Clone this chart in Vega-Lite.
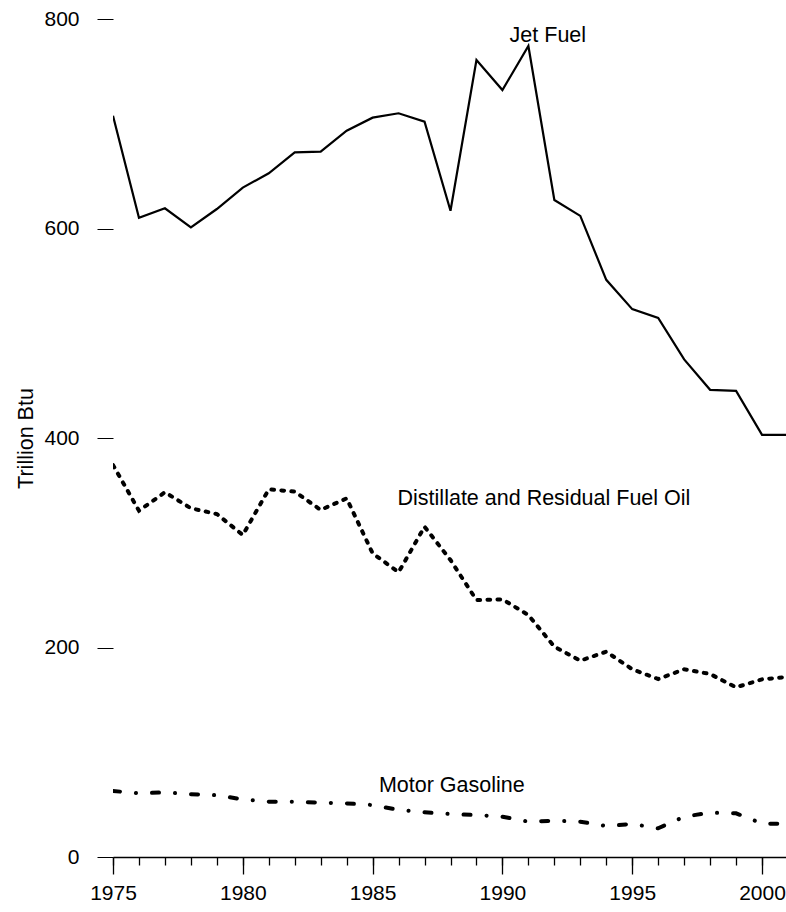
{
  "$schema": "https://vega.github.io/schema/vega-lite/v6.json",
  "autosize": {"type": "none"},
  "padding": {"left": 113, "top": 19, "right": 0, "bottom": 55},
  "width": 675,
  "height": 838,
  "background": "white",
  "config": {
    "view": {"stroke": null},
    "font": "Liberation Sans",
    "axis": {"grid": false, "labelColor": "black", "tickColor": "black", "domainColor": "black", "titleColor": "black", "labelFont": "Liberation Sans", "titleFont": "Liberation Sans", "titleFontWeight": "normal", "labelFlush": false}
  },
  "datasets": {
    "energy": [
      {"year": 1975, "series": "Jet Fuel", "value": 707.7},
      {"year": 1976, "series": "Jet Fuel", "value": 610.3},
      {"year": 1977, "series": "Jet Fuel", "value": 619.3},
      {"year": 1978, "series": "Jet Fuel", "value": 601.1},
      {"year": 1979, "series": "Jet Fuel", "value": 618.6},
      {"year": 1980, "series": "Jet Fuel", "value": 639},
      {"year": 1981, "series": "Jet Fuel", "value": 652.7},
      {"year": 1982, "series": "Jet Fuel", "value": 672.7},
      {"year": 1983, "series": "Jet Fuel", "value": 673.3},
      {"year": 1984, "series": "Jet Fuel", "value": 693.4},
      {"year": 1985, "series": "Jet Fuel", "value": 705.8},
      {"year": 1986, "series": "Jet Fuel", "value": 710},
      {"year": 1987, "series": "Jet Fuel", "value": 702},
      {"year": 1988, "series": "Jet Fuel", "value": 617},
      {"year": 1989, "series": "Jet Fuel", "value": 760.9},
      {"year": 1990, "series": "Jet Fuel", "value": 732.2},
      {"year": 1991, "series": "Jet Fuel", "value": 774.2},
      {"year": 1992, "series": "Jet Fuel", "value": 627.2},
      {"year": 1993, "series": "Jet Fuel", "value": 612},
      {"year": 1994, "series": "Jet Fuel", "value": 551},
      {"year": 1995, "series": "Jet Fuel", "value": 523},
      {"year": 1996, "series": "Jet Fuel", "value": 514.6},
      {"year": 1997, "series": "Jet Fuel", "value": 475},
      {"year": 1998, "series": "Jet Fuel", "value": 446},
      {"year": 1999, "series": "Jet Fuel", "value": 445},
      {"year": 2000, "series": "Jet Fuel", "value": 403},
      {"year": 2001, "series": "Jet Fuel", "value": 403},
      {"year": 1975, "series": "Distillate", "value": 374.2},
      {"year": 1976, "series": "Distillate", "value": 330.6},
      {"year": 1977, "series": "Distillate", "value": 348.2},
      {"year": 1978, "series": "Distillate", "value": 332.9},
      {"year": 1979, "series": "Distillate", "value": 327.4},
      {"year": 1980, "series": "Distillate", "value": 307.4},
      {"year": 1981, "series": "Distillate", "value": 351},
      {"year": 1982, "series": "Distillate", "value": 348.8},
      {"year": 1983, "series": "Distillate", "value": 331.3},
      {"year": 1984, "series": "Distillate", "value": 342.4},
      {"year": 1985, "series": "Distillate", "value": 289.9},
      {"year": 1986, "series": "Distillate", "value": 271.8},
      {"year": 1987, "series": "Distillate", "value": 315.3},
      {"year": 1988, "series": "Distillate", "value": 283.5},
      {"year": 1989, "series": "Distillate", "value": 245.3},
      {"year": 1990, "series": "Distillate", "value": 246},
      {"year": 1991, "series": "Distillate", "value": 231},
      {"year": 1992, "series": "Distillate", "value": 200.8},
      {"year": 1993, "series": "Distillate", "value": 187.4},
      {"year": 1994, "series": "Distillate", "value": 196},
      {"year": 1995, "series": "Distillate", "value": 179.2},
      {"year": 1996, "series": "Distillate", "value": 169.9},
      {"year": 1997, "series": "Distillate", "value": 179.2},
      {"year": 1998, "series": "Distillate", "value": 174.7},
      {"year": 1999, "series": "Distillate", "value": 162},
      {"year": 2000, "series": "Distillate", "value": 169.6},
      {"year": 2001, "series": "Distillate", "value": 172},
      {"year": 1975, "series": "Motor Gasoline", "value": 63},
      {"year": 1976, "series": "Motor Gasoline", "value": 60.8},
      {"year": 1977, "series": "Motor Gasoline", "value": 61.7},
      {"year": 1978, "series": "Motor Gasoline", "value": 60},
      {"year": 1979, "series": "Motor Gasoline", "value": 59},
      {"year": 1980, "series": "Motor Gasoline", "value": 55},
      {"year": 1981, "series": "Motor Gasoline", "value": 52.8},
      {"year": 1982, "series": "Motor Gasoline", "value": 52.8},
      {"year": 1983, "series": "Motor Gasoline", "value": 51.9},
      {"year": 1984, "series": "Motor Gasoline", "value": 51.2},
      {"year": 1985, "series": "Motor Gasoline", "value": 49.6},
      {"year": 1986, "series": "Motor Gasoline", "value": 44.9},
      {"year": 1987, "series": "Motor Gasoline", "value": 42.7},
      {"year": 1988, "series": "Motor Gasoline", "value": 41},
      {"year": 1989, "series": "Motor Gasoline", "value": 40},
      {"year": 1990, "series": "Motor Gasoline", "value": 38.5},
      {"year": 1991, "series": "Motor Gasoline", "value": 33.7},
      {"year": 1992, "series": "Motor Gasoline", "value": 34.7},
      {"year": 1993, "series": "Motor Gasoline", "value": 33.7},
      {"year": 1994, "series": "Motor Gasoline", "value": 29.6},
      {"year": 1995, "series": "Motor Gasoline", "value": 31.5},
      {"year": 1996, "series": "Motor Gasoline", "value": 27.4},
      {"year": 1997, "series": "Motor Gasoline", "value": 38.5},
      {"year": 1998, "series": "Motor Gasoline", "value": 42.3},
      {"year": 1999, "series": "Motor Gasoline", "value": 41.7},
      {"year": 2000, "series": "Motor Gasoline", "value": 32},
      {"year": 2001, "series": "Motor Gasoline", "value": 31.5}
    ],
    "labels": [
      {"label": "Jet Fuel", "year": 1991.75, "value": 778},
      {"label": "Distillate and Residual Fuel Oil", "year": 1991.6, "value": 336},
      {"label": "Motor Gasoline", "year": 1988.05, "value": 62.3}
    ]
  },
  "layer": [
    {
      "data": {"name": "energy"},
      "transform": [{"filter": "datum.series === 'Jet Fuel'"}],
      "mark": {"type": "line", "color": "black", "strokeWidth": 2.2, "clip": true},
      "encoding": {
        "x": {"field": "year", "type": "quantitative", "scale": {"domain": [1975, 2001], "nice": false, "zero": false},
          "axis": {"values": [1975,1976,1977,1978,1979,1980,1981,1982,1983,1984,1985,1986,1987,1988,1989,1990,1991,1992,1993,1994,1995,1996,1997,1998,1999,2000,2001], "labels": false, "tickSize": 8, "tickWidth": 1.3, "domain": true, "domainWidth": 1.3, "title": null, "orient": "bottom"}},
        "y": {"field": "value", "type": "quantitative", "scale": {"domain": [0, 800], "nice": false},
          "axis": {"values": [0, 200, 400, 600, 800], "domain": false, "tickSize": 16, "tickWidth": 1, "labelPadding": 18, "labelFontSize": 21, "title": "Trillion Btu", "titleFontSize": 21.5, "titlePadding": 6}}
      }
    },
    {
      "data": {"name": "energy"},
      "transform": [{"filter": "datum.series === 'Distillate'"}],
      "mark": {"type": "line", "color": "black", "strokeWidth": 4, "strokeCap": "round", "strokeDash": [2.7, 7.3], "clip": true},
      "encoding": {
        "x": {"field": "year", "type": "quantitative",
          "axis": {"values": [1975, 1980, 1985, 1990, 1995, 2000], "format": "d", "tickSize": 17, "tickWidth": 1.3, "domain": false, "labelFontSize": 21, "labelPadding": 8, "title": null, "orient": "bottom"}},
        "y": {"field": "value", "type": "quantitative", "axis": null}
      }
    },
    {
      "data": {"name": "energy"},
      "transform": [{"filter": "datum.series === 'Motor Gasoline'"}],
      "mark": {"type": "line", "color": "black", "strokeWidth": 4, "strokeCap": "round", "strokeDash": [7, 16, 0.1, 16], "clip": true},
      "encoding": {
        "x": {"field": "year", "type": "quantitative", "axis": null},
        "y": {"field": "value", "type": "quantitative", "axis": null}
      }
    },
    {
      "data": {"name": "labels"},
      "mark": {"type": "text", "color": "black", "fontSize": 21.5, "font": "Liberation Sans", "align": "center", "baseline": "alphabetic"},
      "encoding": {
        "x": {"field": "year", "type": "quantitative", "axis": null},
        "y": {"field": "value", "type": "quantitative", "axis": null},
        "text": {"field": "label"}
      }
    }
  ],
  "resolve": {"axis": {"x": "independent", "y": "independent"}}
}
